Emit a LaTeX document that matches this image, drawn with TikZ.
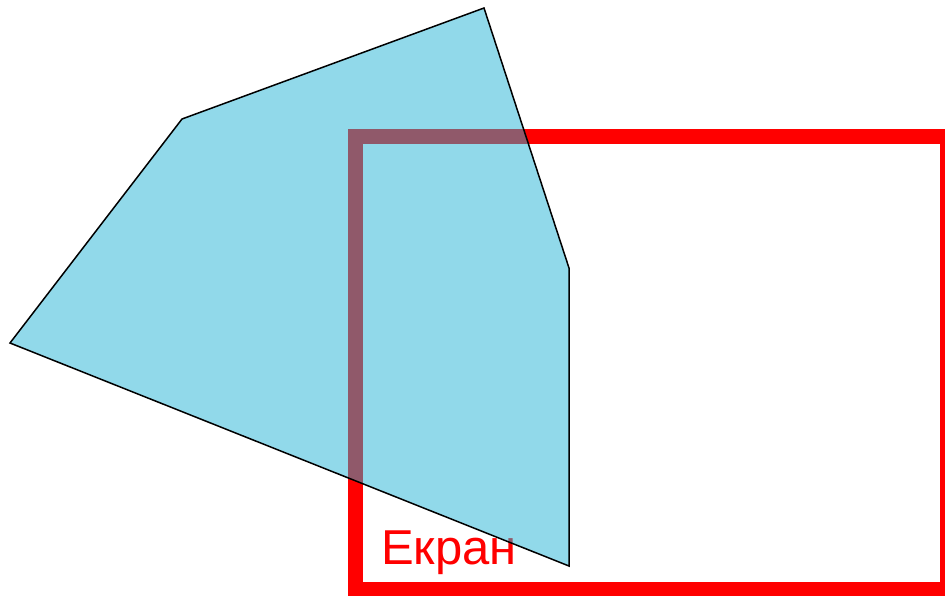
\documentclass[tikz,border=0pt]{standalone}
\usepackage{fontspec}
\setmainfont{Liberation Sans}
\definecolor{polyblue}{RGB}{35,179,213}
\definecolor{scrred}{RGB}{255,0,0}
\tikzset{
  screen/.style={draw=scrred, line width=15pt},
  poly/.style={fill=polyblue, fill opacity=0.5, draw=black, line width=1.5pt, line join=miter},
  label/.style={text=scrred, inner sep=0pt, anchor=base west, font=\fontsize{49pt}{55pt}\selectfont}
}
\begin{document}
\begin{tikzpicture}[x=1pt, y=-1pt]
\useasboundingbox (0,0) rectangle (945,595);
\clip (0,0) rectangle (945,595);
\draw[screen] (355.5,136.5) rectangle (947.5,589.5);
\node[label] (txt) at (381,564) {Екран};
\coordinate (p1) at (10,343);
\coordinate (p2) at (182,119);
\coordinate (p3) at (484,8);
\coordinate (p4) at (569,268);
\coordinate (p5) at (569,566);
\draw[poly] (p1) -- (p2) -- (p3) -- (p4) -- (p5) -- cycle;
\end{tikzpicture}
\end{document}
